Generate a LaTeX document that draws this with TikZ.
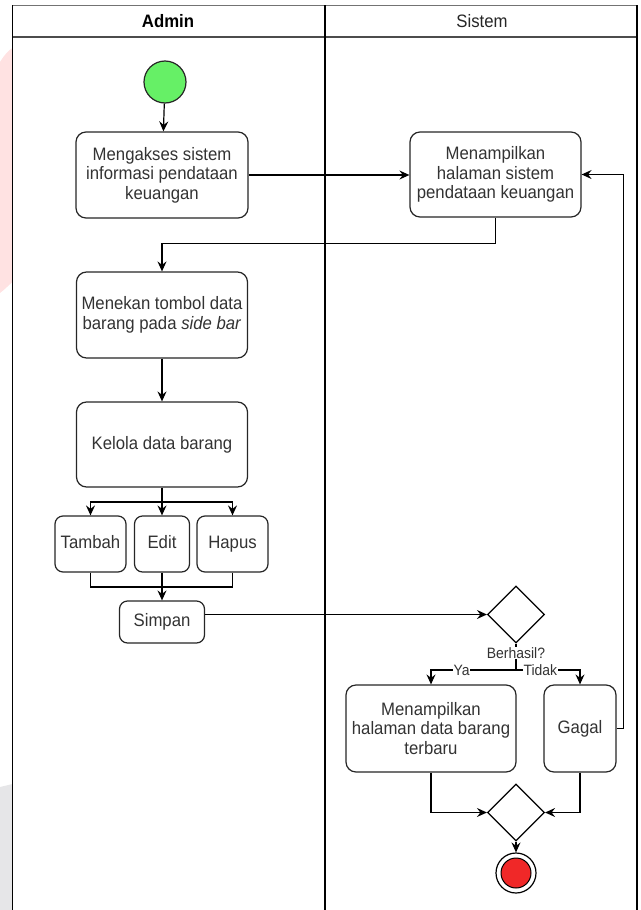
\documentclass[tikz,border=0pt]{standalone}
\usepackage{fontspec}
\setmainfont{Liberation Sans}[FakeStretch=0.93]
\usetikzlibrary{arrows.meta,shapes.geometric}
\definecolor{startgreen}{RGB}{102,240,102}
\definecolor{endred}{RGB}{240,40,40}
\definecolor{txt}{RGB}{51,51,51}
\definecolor{wmpink}{RGB}{255,226,226}
\definecolor{wmgrey}{RGB}{230,230,232}
\begin{document}
\begin{tikzpicture}[x=1pt,y=-1pt,
  every node/.style={font=\fontsize{18pt}{19.5pt}\selectfont, text=txt},
  box/.style={draw=black!85, line width=1.2pt, rounded corners=10pt, fill=white, align=center, inner sep=0pt},
  one/.style={text height=13pt, text depth=4pt},
  dec/.style={diamond, aspect=1, draw=black, line width=1.2pt, fill=white, minimum width=57pt, minimum height=57pt, inner sep=0pt},
  conn/.style={line width=1.2pt, draw=black},
  arr/.style={conn, -{Stealth[length=10pt,width=9pt,inset=3.5pt]}},
  lbl/.style={fill=white, inner sep=0.5pt, font=\fontsize{15pt}{16pt}\selectfont}
]
\useasboundingbox (0,0) rectangle (640,910);
% watermark traces at the left edge
\fill[wmpink] (0,62) .. controls (5,54) and (9,50) .. (12.5,48) -- (12.5,282) .. controls (8,286) and (4,290) .. (0,293) -- cycle;
\fill[wmgrey] (0,787) -- (12.5,784) -- (12.5,910) -- (0,910) -- cycle;
% swimlane frame
\draw[line width=1pt, black!55] (12.5,5) -- (637,5);
\draw[line width=1.2pt, black!70] (12.5,37) -- (637,37);
\draw[line width=1.4pt] (12.5,5) -- (12.5,910);
\draw[line width=1.4pt] (637,5) -- (637,910);
\draw[line width=1.2pt] (325,5) -- (325,910);
\node[font=\fontsize{18pt}{19.5pt}\selectfont\bfseries, text=black] (hA) at (168,21) {Admin};
\node[text=black!85] (hS) at (482,21) {Sistem};
% nodes
\node[circle, draw=black!85, line width=1.2pt, fill=startgreen, minimum size=42pt, inner sep=0pt] (start) at (165,82) {};
\node[box, minimum width=172pt, minimum height=86pt] (b1) at (162,175) {Mengakses sistem\\informasi pendataan\\keuangan};
\node[box, minimum width=171pt, minimum height=85pt] (b2) at (495.5,174.5) {Menampilkan\\halaman sistem\\pendataan keuangan};
\node[box, minimum width=171pt, minimum height=86pt] (b3) at (162,315) {Menekan tombol data\\barang pada \textit{side bar}};
\node[box, one, minimum width=171pt, minimum height=85pt] (b4) at (162,444.5) {Kelola data barang};
\node[box, one, rounded corners=8pt, minimum width=71pt, minimum height=56pt] (tambah) at (90.5,544) {Tambah};
\node[box, one, rounded corners=8pt, minimum width=55pt, minimum height=56pt] (edit) at (162,544) {Edit};
\node[box, one, rounded corners=8pt, minimum width=71pt, minimum height=56pt] (hapus) at (232.5,544) {Hapus};
\node[box, one, rounded corners=8pt, minimum width=85pt, minimum height=42pt] (simpan) at (162,622) {Simpan};
\node[dec] (d1) at (516,614.5) {};
\node[box, minimum width=170pt, minimum height=87pt] (ya) at (431,728.5) {Menampilkan\\halaman data barang\\terbaru};
\node[box, one, minimum width=72pt, minimum height=87pt] (gagal) at (580,728.5) {Gagal};
\node[dec] (d2) at (516,812.5) {};
\node[circle, draw=black, line width=1.2pt, fill=white, minimum size=40pt, inner sep=0pt] (end) at (516,873) {};
\node[circle, draw=black, line width=1pt, fill=endred, minimum size=30pt, inner sep=0pt] (endin) at (end) {};
% connectors
\draw[arr] (start) -- (b1);
\draw[arr] (b1.east) -- (b1.east -| b2.west);
\draw[arr] (b2.south) -- ++(0,26) -| (b3.north);
\draw[arr] (b3) -- (b4);
\coordinate (fork) at (162,502);
\draw[conn] (b4.south) -- (fork);
\draw[arr] (fork) -| (tambah.north);
\draw[arr] (fork) -- (edit.north);
\draw[arr] (fork) -| (hapus.north);
\coordinate (merge) at (162,587);
\draw[conn] (tambah.south) |- (merge);
\draw[conn] (hapus.south) |- (merge);
\draw[arr] (edit.south) -- (simpan.north);
\draw[arr] (simpan.east |- d1) -- (d1.west);
\coordinate (split) at (516,670);
\draw[conn] (d1.south) -- (split);
\node[lbl] (berhasil) at (516,653) {Berhasil?};
\draw[arr] (split) -| node[lbl, pos=0.32] (lya) {Ya} (ya.north);
\draw[arr] (split) -| node[lbl, pos=0.19] (ltidak) {Tidak} (gagal.north);
\draw[arr] (gagal.east) -- ++(7,0) |- (b2.east);
\draw[arr] (ya.south) |- (d2.west);
\draw[arr] (gagal.south) |- (d2.east);
\draw[arr] (d2.south) -- (end.north);
\end{tikzpicture}
\end{document}
